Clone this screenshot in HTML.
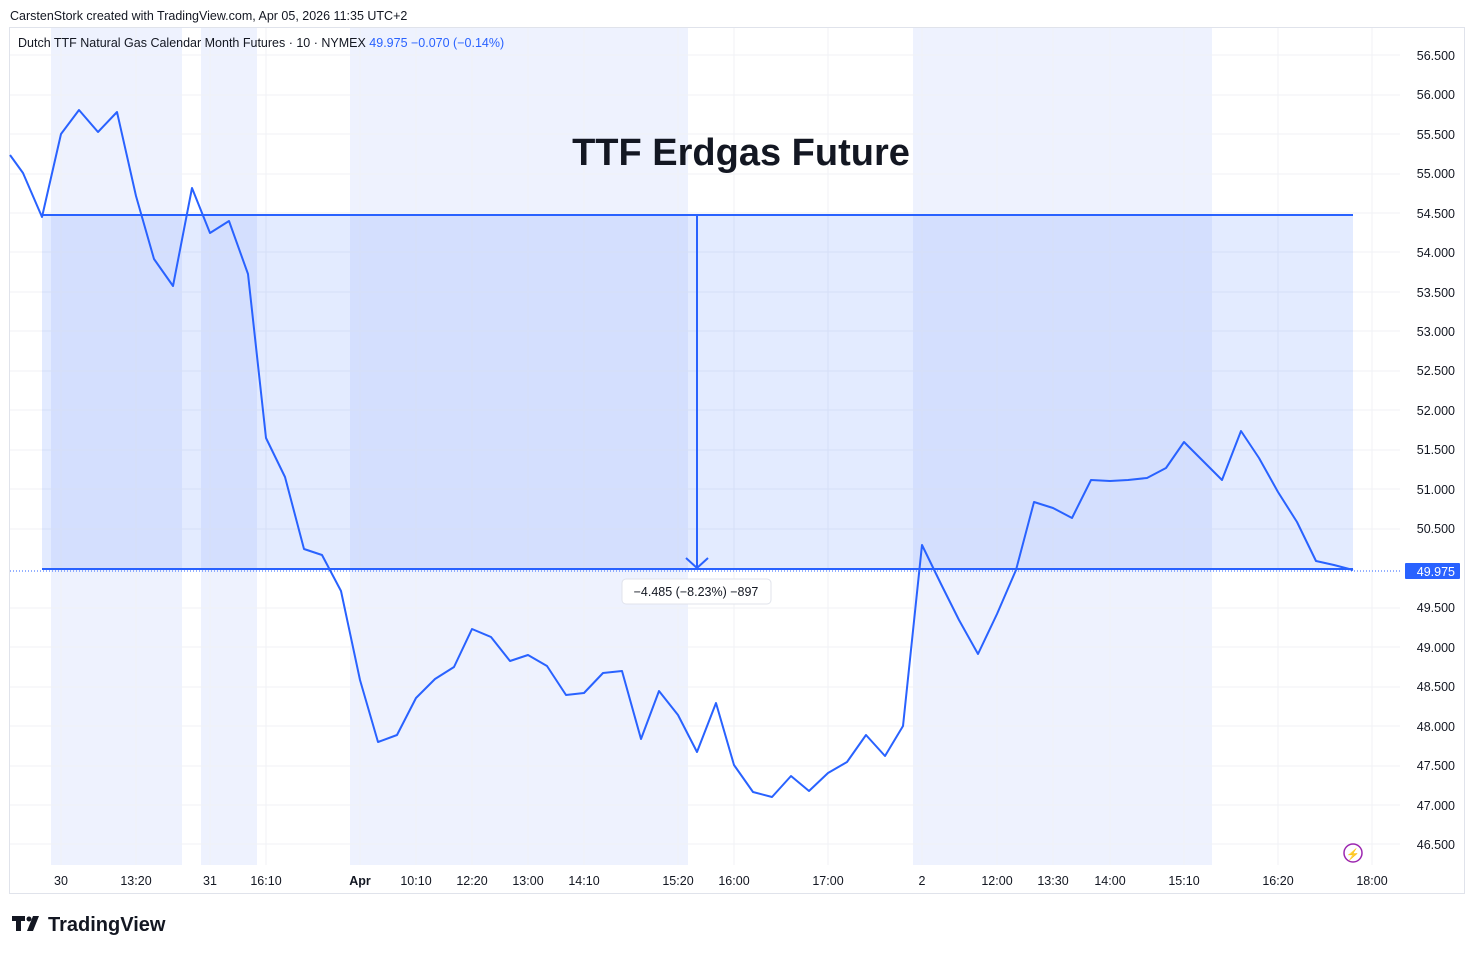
<!DOCTYPE html><html><head><style>body{margin:0;background:#fff;}svg{display:block;font-family:"Liberation Sans",sans-serif;}</style></head><body>
<svg width="1475" height="954" xmlns="http://www.w3.org/2000/svg">
<rect width="1475" height="954" fill="#fff"/>
<text x="10" y="20" font-size="12.5" fill="#131722">CarstenStork created with TradingView.com, Apr 05, 2026 11:35 UTC+2</text>
<rect x="9.5" y="27.5" width="1455" height="866" fill="none" stroke="#e0e3eb"/>
<g fill="#eef2fe"><rect x="51" y="28" width="131" height="837"/><rect x="201" y="28" width="56" height="837"/><rect x="350" y="28" width="338" height="837"/><rect x="913" y="28" width="299" height="837"/></g>
<g stroke="#f0f2f6" stroke-width="1">
<line x1="10" x2="1400" y1="55" y2="55"/><line x1="10" x2="1400" y1="95" y2="95"/><line x1="10" x2="1400" y1="134" y2="134"/><line x1="10" x2="1400" y1="174" y2="174"/><line x1="10" x2="1400" y1="213" y2="213"/><line x1="10" x2="1400" y1="252" y2="252"/><line x1="10" x2="1400" y1="292" y2="292"/><line x1="10" x2="1400" y1="331" y2="331"/><line x1="10" x2="1400" y1="371" y2="371"/><line x1="10" x2="1400" y1="410" y2="410"/><line x1="10" x2="1400" y1="450" y2="450"/><line x1="10" x2="1400" y1="489" y2="489"/><line x1="10" x2="1400" y1="529" y2="529"/><line x1="10" x2="1400" y1="608" y2="608"/><line x1="10" x2="1400" y1="647" y2="647"/><line x1="10" x2="1400" y1="687" y2="687"/><line x1="10" x2="1400" y1="726" y2="726"/><line x1="10" x2="1400" y1="766" y2="766"/><line x1="10" x2="1400" y1="805" y2="805"/><line x1="10" x2="1400" y1="844" y2="844"/>
<line y1="28" y2="865" x1="61" x2="61"/><line y1="28" y2="865" x1="136" x2="136"/><line y1="28" y2="865" x1="210" x2="210"/><line y1="28" y2="865" x1="266" x2="266"/><line y1="28" y2="865" x1="360" x2="360"/><line y1="28" y2="865" x1="416" x2="416"/><line y1="28" y2="865" x1="472" x2="472"/><line y1="28" y2="865" x1="528" x2="528"/><line y1="28" y2="865" x1="584" x2="584"/><line y1="28" y2="865" x1="678" x2="678"/><line y1="28" y2="865" x1="734" x2="734"/><line y1="28" y2="865" x1="828" x2="828"/><line y1="28" y2="865" x1="922" x2="922"/><line y1="28" y2="865" x1="997" x2="997"/><line y1="28" y2="865" x1="1053" x2="1053"/><line y1="28" y2="865" x1="1110" x2="1110"/><line y1="28" y2="865" x1="1184" x2="1184"/><line y1="28" y2="865" x1="1278" x2="1278"/><line y1="28" y2="865" x1="1372" x2="1372"/>
</g>
<rect x="42" y="215" width="1311" height="354" fill="rgba(41,98,255,0.13)"/>
<line x1="42" x2="1353" y1="215" y2="215" stroke="#2962ff" stroke-width="2"/>
<line x1="42" x2="1353" y1="569" y2="569" stroke="#2962ff" stroke-width="2"/>
<line x1="10" x2="1400" y1="571" y2="571" stroke="#2962ff" stroke-width="1" stroke-dasharray="1,2"/>
<line x1="697" x2="697" y1="215" y2="568" stroke="#2962ff" stroke-width="2"/>
<polyline points="686,558 697,568 708,558" fill="none" stroke="#2962ff" stroke-width="2"/>
<rect x="622" y="579" width="149" height="25" rx="4" fill="#fff" stroke="#e0e3eb"/>
<text x="696" y="596" font-size="12.5" text-anchor="middle" fill="#131722">−4.485 (−8.23%) −897</text>
<text x="741" y="165" font-size="38" font-weight="bold" text-anchor="middle" fill="#131722">TTF Erdgas Future</text>
<polyline fill="none" stroke="#2962ff" stroke-width="2" stroke-linejoin="round" points="10,155 23,173 42,217 61,134 79,110 98,132 117,112 136,196 154,259 173,286 192,188 210,233 229,221 248,274 266,438 285,477 304,549 322,555 341,591 360,680 378,742 397,735 416,698 435,679 454,667 472,629 491,637 510,661 528,655 547,666 566,695 584,693 603,673 622,671 641,739 659,691 678,715 697,752 716,703 734,765 753,792 772,797 791,776 809,791 828,773 847,762 866,735 885,756 903,726 922,545 941,584 959,620 978,654 997,614 1016,570 1034,502 1053,508 1072,518 1091,480 1110,481 1128,480 1147,478 1166,468 1184,442 1203,461 1222,480 1241,431 1259,458 1278,492 1297,522 1316,561 1334,565 1353,570"/>
<text x="18" y="47" font-size="12.5" fill="#131722">Dutch TTF Natural Gas Calendar Month Futures · 10 · NYMEX <tspan fill="#2962ff">49.975  −0.070 (−0.14%)</tspan></text>
<g font-size="12.5" fill="#131722" text-anchor="end">
<text x="1455" y="60">56.500</text><text x="1455" y="99">56.000</text><text x="1455" y="139">55.500</text><text x="1455" y="178">55.000</text><text x="1455" y="218">54.500</text><text x="1455" y="257">54.000</text><text x="1455" y="297">53.500</text><text x="1455" y="336">53.000</text><text x="1455" y="375">52.500</text><text x="1455" y="415">52.000</text><text x="1455" y="454">51.500</text><text x="1455" y="494">51.000</text><text x="1455" y="533">50.500</text><text x="1455" y="612">49.500</text><text x="1455" y="652">49.000</text><text x="1455" y="691">48.500</text><text x="1455" y="731">48.000</text><text x="1455" y="770">47.500</text><text x="1455" y="810">47.000</text><text x="1455" y="849">46.500</text>
</g>
<rect x="1405" y="563" width="55" height="16" rx="1" fill="#2962ff"/>
<text x="1455" y="576" font-size="12.5" fill="#fff" text-anchor="end">49.975</text>
<g font-size="12.5" fill="#131722" text-anchor="middle">
<text x="61" y="885">30</text><text x="136" y="885">13:20</text><text x="210" y="885">31</text><text x="266" y="885">16:10</text><text x="360" y="885" font-weight="bold">Apr</text><text x="416" y="885">10:10</text><text x="472" y="885">12:20</text><text x="528" y="885">13:00</text><text x="584" y="885">14:10</text><text x="678" y="885">15:20</text><text x="734" y="885">16:00</text><text x="828" y="885">17:00</text><text x="922" y="885">2</text><text x="997" y="885">12:00</text><text x="1053" y="885">13:30</text><text x="1110" y="885">14:00</text><text x="1184" y="885">15:10</text><text x="1278" y="885">16:20</text><text x="1372" y="885">18:00</text>
</g>
<circle cx="1353" cy="853" r="9" fill="none" stroke="#9c27b0" stroke-width="1.5"/>
<text x="1353" y="858" font-size="11" fill="#9c27b0" text-anchor="middle">⚡</text>
<g fill="#131722"><path d="M12 916h13v5h-4v10h-5v-10h-4z"/><circle cx="29" cy="919" r="2.5"/><path d="M33 916h6l-6 15h-6z"/></g>
<text x="48" y="931" font-size="20" font-weight="bold" fill="#131722">TradingView</text>
</svg></body></html>
